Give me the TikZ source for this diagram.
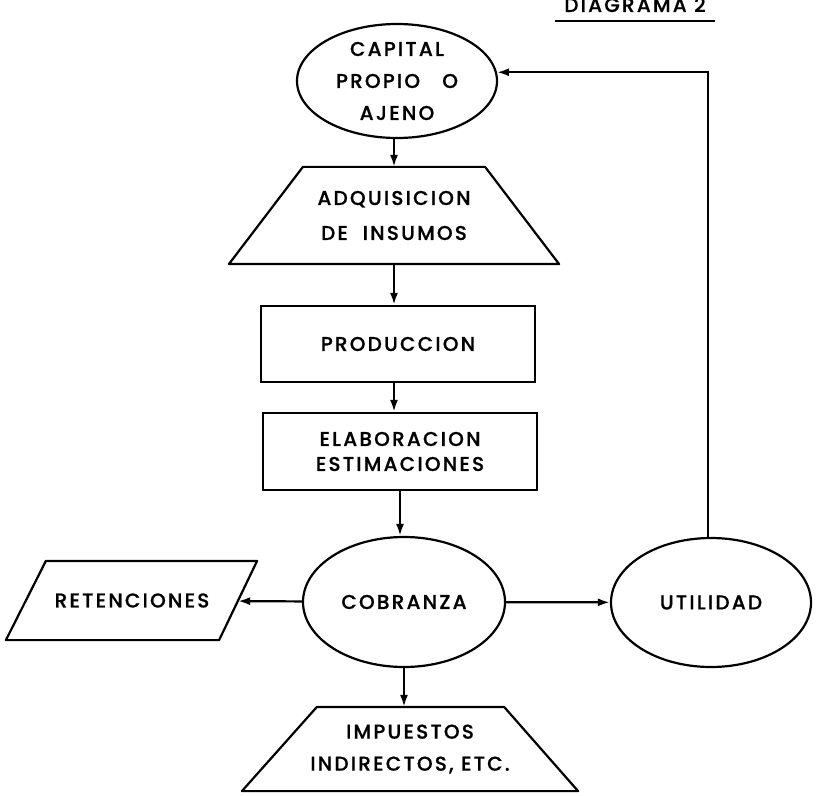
\documentclass[tikz,border=0pt]{standalone}
\usepackage{fontspec}
\setmainfont{Poppins}[UprightFont=* Medium, LetterSpace=11, FakeBold=0.8]
\usetikzlibrary{arrows.meta, positioning, shapes.geometric}

\begin{document}
\begin{tikzpicture}[x=0.5pt, y=-0.5pt, ->, >={Latex[length=6pt,width=4pt]}, line width=1.1pt]
    \tikzstyle{every node}=[font=\fontsize{10}{16}\selectfont, align=center]
    \tikzstyle{oval}=[ellipse, draw, inner sep=0pt, minimum width=100pt, minimum height=64.5pt]
    \tikzstyle{box}=[rectangle, draw, minimum width=137pt, minimum height=38pt]
    \tikzstyle{frame}=[rectangle, inner sep=0pt]
    \tikzstyle{outline}=[-, line join=round]

    \useasboundingbox (0,0) rectangle (818,796);

    % Title
    \node[anchor=base, inner xsep=4pt, inner ysep=4pt] (titulo) at (635,12) {DIAGRAMA 2};
    \draw[outline] (titulo.south west) -- (titulo.south east);

    % Draw the main column
    \node[oval, minimum height=57pt] (cap) at (397,81) {CAPITAL\\PROPIO\ \ \ O\\AJENO};
    \node[frame, minimum width=164pt, minimum height=47.5pt,
          font=\fontsize{10}{17.5}\selectfont] (adq) at (394,215.5) {ADQUISICION\\DE\ \ INSUMOS};
    \node[box] (prod) at (398,344) {PRODUCCION};
    \node[box, minimum height=38.5pt, font=\fontsize{10}{12.5}\selectfont] (elab) at (400,451.5)
          {ELABORACION\\ESTIMACIONES};

    % Draw the bottom row
    \node[oval, minimum width=101pt, minimum height=65pt] (cob) at (404,602) {COBRANZA};
    \node[oval] (util) at (711,602.5) {UTILIDAD};
    \node[frame, minimum width=105pt, minimum height=38.5pt] (ret) at (132,600.5) {RETENCIONES};
    \node[frame, minimum width=167pt, minimum height=41pt] (imp) at (410,749) {IMPUESTOS\\INDIRECTOS, ETC.};

    % Outlines of the slanted shapes
    \draw[outline] (adq.south west) -- ([xshift=37pt]adq.north west)
        -- ([xshift=-37pt]adq.north east) -- (adq.south east) -- cycle;
    \draw[outline] ([xshift=-10pt]ret.south west) -- ([xshift=10pt]ret.north west)
        -- ([xshift=9.5pt]ret.north east) -- ([xshift=-9.5pt]ret.south east) -- cycle;
    \draw[outline] (imp.south west) -- ([xshift=37.5pt]imp.north west)
        -- ([xshift=-37pt]imp.north east) -- (imp.south east) -- cycle;

    % Connect the nodes
    \draw (cap.south -| adq) -- (adq);
    \draw (adq.south) -- (adq.south |- prod.north);
    \draw (adq.south |- prod.south) -- (adq.south |- elab.north);
    \draw (elab) -- (elab.south |- cob.north);
    \draw (cob) -- (ret);
    \draw (cob) -- (util);
    \draw (cob) -- (cob |- imp.north);
    \draw (util.north -| 708,0) |- (cap.5);
\end{tikzpicture}
\end{document}
